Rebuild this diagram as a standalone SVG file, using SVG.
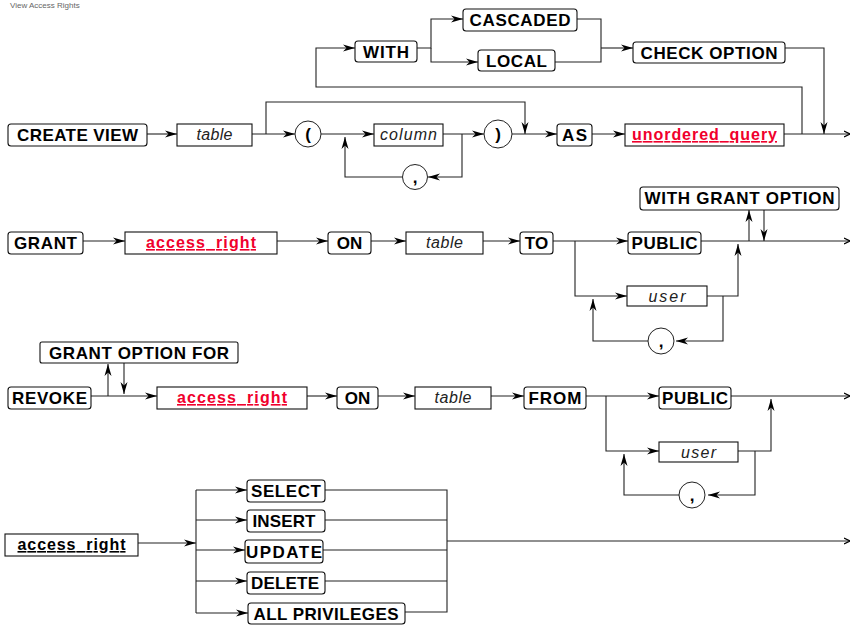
<svg xmlns="http://www.w3.org/2000/svg" width="851" height="625" viewBox="0 0 851 625">
<style>
.bg{fill:#fff}
.k{fill:#fff;stroke:#111;stroke-width:1.1}
.c{fill:#fff;stroke:#222;stroke-width:1}
.ln{fill:none;stroke:#222;stroke-width:1.1}
.t{font-family:"Liberation Sans",Arial,sans-serif;font-size:17px;font-weight:bold;fill:#000;text-anchor:middle}
.i{font-family:"Liberation Sans",Arial,sans-serif;font-size:16px;font-style:italic;fill:#222;text-anchor:middle}
.r{font-family:"Liberation Sans",Arial,sans-serif;font-size:16px;font-weight:bold;fill:#f0002c;text-anchor:middle;text-decoration:underline}
.u{font-family:"Liberation Sans",Arial,sans-serif;font-size:16px;font-weight:bold;fill:#000;text-anchor:middle;text-decoration:underline}
.h{font-family:"Liberation Sans",Arial,sans-serif;font-size:8px;fill:#666}
</style>
<defs>
<marker id="a" markerUnits="userSpaceOnUse" viewBox="0 0 12 8" refX="12" refY="4" markerWidth="12" markerHeight="8" orient="auto">
<path d="M0,0.5 L12,4 L0,7.5 L3.5,4 Z" fill="#000"/>
</marker>
<marker id="e" markerUnits="userSpaceOnUse" viewBox="0 0 6 8" refX="6" refY="4" markerWidth="6" markerHeight="8" orient="auto">
<path d="M0,1 L6,4 L0,7" fill="none" stroke="#000" stroke-width="1.2"/>
</marker>
</defs>
<rect class="bg" x="0" y="0" width="851" height="625"/>
<text class="h" x="10" y="8">View  Access Rights</text>

<g id="connectors">
<!-- row 1 -->
<path class="ln" d="M147,134 H177" marker-end="url(#a)"/>
<path class="ln" d="M252,134 H295" marker-end="url(#a)"/>
<path class="ln" d="M266,134 V102 H525 V134" marker-end="url(#a)"/>
<path class="ln" d="M321,134 H374" marker-end="url(#a)"/>
<path class="ln" d="M443,134 H484" marker-end="url(#a)"/>
<path class="ln" d="M462,134 V177 H428" marker-end="url(#a)"/>
<path class="ln" d="M402,177 H345 V137" marker-end="url(#a)"/>
<path class="ln" d="M512,134 H557" marker-end="url(#a)"/>
<path class="ln" d="M592,134 H625" marker-end="url(#a)"/>
<path class="ln" d="M784,134 H850" marker-end="url(#e)"/>
<path class="ln" d="M802,134 V87 H316 V48 H355" marker-end="url(#a)"/>
<path class="ln" d="M417,48 H431 V19 H463" marker-end="url(#a)"/>
<path class="ln" d="M431,48 V62 H478" marker-end="url(#a)"/>
<path class="ln" d="M577,19 H601 V62 H555"/>
<path class="ln" d="M601,48 H633" marker-end="url(#a)"/>
<path class="ln" d="M785,48 H824 V134" marker-end="url(#a)"/>
<!-- row 2 -->
<path class="ln" d="M83,241 H125" marker-end="url(#a)"/>
<path class="ln" d="M277,241 H328" marker-end="url(#a)"/>
<path class="ln" d="M371,241 H406" marker-end="url(#a)"/>
<path class="ln" d="M483,241 H520" marker-end="url(#a)"/>
<path class="ln" d="M553,241 H628" marker-end="url(#a)"/>
<path class="ln" d="M575,241 V296 H627" marker-end="url(#a)"/>
<path class="ln" d="M707,296 H738 V244" marker-end="url(#a)"/>
<path class="ln" d="M723,296 V341 H676" marker-end="url(#a)"/>
<path class="ln" d="M648,341 H593 V299" marker-end="url(#a)"/>
<path class="ln" d="M701,241 H850" marker-end="url(#e)"/>
<path class="ln" d="M749,241 V210" marker-end="url(#a)"/>
<path class="ln" d="M764,210 V241" marker-end="url(#a)"/>
<!-- row 3 -->
<path class="ln" d="M91,396 H157" marker-end="url(#a)"/>
<path class="ln" d="M108,396 V364" marker-end="url(#a)"/>
<path class="ln" d="M124,363 V394" marker-end="url(#a)"/>
<path class="ln" d="M307,396 H337" marker-end="url(#a)"/>
<path class="ln" d="M378,396 H415" marker-end="url(#a)"/>
<path class="ln" d="M491,396 H524" marker-end="url(#a)"/>
<path class="ln" d="M586,396 H659" marker-end="url(#a)"/>
<path class="ln" d="M606,396 V451 H659" marker-end="url(#a)"/>
<path class="ln" d="M738,451 H771 V399" marker-end="url(#a)"/>
<path class="ln" d="M755,451 V495 H708" marker-end="url(#a)"/>
<path class="ln" d="M679,495 H624 V454" marker-end="url(#a)"/>
<path class="ln" d="M731,396 H850" marker-end="url(#e)"/>
<!-- row 4 -->
<path class="ln" d="M138,543 H196" marker-end="url(#a)"/>
<path class="ln" d="M196,490 V613"/>
<path class="ln" d="M196,490 H247" marker-end="url(#a)"/>
<path class="ln" d="M196,520 H247" marker-end="url(#a)"/>
<path class="ln" d="M196,550 H245" marker-end="url(#a)"/>
<path class="ln" d="M196,581 H247" marker-end="url(#a)"/>
<path class="ln" d="M196,613 H248" marker-end="url(#a)"/>
<path class="ln" d="M325,490 H447 V612 H405"/>
<path class="ln" d="M325,520 H447"/>
<path class="ln" d="M323,550 H447"/>
<path class="ln" d="M325,581 H447"/>
<path class="ln" d="M447,541 H850" marker-end="url(#e)"/>
</g>

<!-- row 1 nodes -->
<g id="create_view"><rect class="k" x="8" y="124" width="139" height="22" rx="3"/><text class="t" x="77.5" y="141" textLength="121">CREATE VIEW</text></g>
<g id="table1"><rect class="k" x="177" y="124" width="75" height="22"/><text class="i" x="214.5" y="140" textLength="36">table</text></g>
<g id="lparen"><circle class="c" cx="308" cy="134" r="13"/><text class="t" x="308" y="140">(</text></g>
<g id="column"><rect class="k" x="374" y="124" width="69" height="22"/><text class="i" x="408.5" y="140" textLength="57">column</text></g>
<g id="comma1"><circle class="c" cx="415" cy="177" r="12.5"/><text class="t" x="415" y="183">,</text></g>
<g id="rparen"><circle class="c" cx="498" cy="134" r="14"/><text class="t" x="498" y="140">)</text></g>
<g id="as"><rect class="k" x="557" y="124" width="35" height="22" rx="3"/><text class="t" x="574.5" y="141" textLength="25">AS</text></g>
<g id="unordered_query"><rect class="k" x="625" y="124" width="159" height="22"/><text class="r" x="704.5" y="140" textLength="145">unordered_query</text></g>
<g id="with"><rect class="k" x="355" y="41" width="62" height="21" rx="3"/><text class="t" x="386" y="57.5" textLength="46">WITH</text></g>
<g id="cascaded"><rect class="k" x="463" y="9" width="114" height="22" rx="3"/><text class="t" x="520" y="26" textLength="101">CASCADED</text></g>
<g id="local"><rect class="k" x="478" y="50" width="77" height="21" rx="3"/><text class="t" x="516.5" y="66.5" textLength="61">LOCAL</text></g>
<g id="check_option"><rect class="k" x="633" y="42" width="152" height="21" rx="3"/><text class="t" x="709" y="58.5" textLength="137">CHECK OPTION</text></g>

<!-- row 2 nodes -->
<g id="grant"><rect class="k" x="8" y="232" width="75" height="22" rx="3"/><text class="t" x="45.5" y="249" textLength="63">GRANT</text></g>
<g id="access_right_g"><rect class="k" x="125" y="232" width="152" height="22"/><text class="r" x="201" y="248" textLength="110">access_right</text></g>
<g id="on_g"><rect class="k" x="328" y="232" width="43" height="22" rx="3"/><text class="t" x="349.5" y="249">ON</text></g>
<g id="table_g"><rect class="k" x="406" y="232" width="77" height="22"/><text class="i" x="444.5" y="248" textLength="37">table</text></g>
<g id="to"><rect class="k" x="520" y="232" width="33" height="22" rx="3"/><text class="t" x="536.5" y="249">TO</text></g>
<g id="public_g"><rect class="k" x="628" y="232" width="73" height="22" rx="3"/><text class="t" x="664.5" y="249" textLength="66">PUBLIC</text></g>
<g id="user_g"><rect class="k" x="627" y="286" width="80" height="20"/><text class="i" x="667" y="302" textLength="37">user</text></g>
<g id="comma_g"><circle class="c" cx="661" cy="341" r="13"/><text class="t" x="661" y="347">,</text></g>
<g id="with_grant_option"><rect class="k" x="640" y="187" width="199" height="23" rx="3"/><text class="t" x="739.5" y="204" textLength="190">WITH GRANT OPTION</text></g>

<!-- row 3 nodes -->
<g id="revoke"><rect class="k" x="8" y="387" width="83" height="22" rx="3"/><text class="t" x="49.5" y="404" textLength="75">REVOKE</text></g>
<g id="grant_option_for"><rect class="k" x="40" y="342" width="198" height="21" rx="2"/><text class="t" x="139" y="358.5" textLength="180">GRANT OPTION FOR</text></g>
<g id="access_right_r"><rect class="k" x="157" y="387" width="150" height="22"/><text class="r" x="232" y="403" textLength="110">access_right</text></g>
<g id="on_r"><rect class="k" x="337" y="387" width="41" height="22" rx="3"/><text class="t" x="357.5" y="404">ON</text></g>
<g id="table_r"><rect class="k" x="415" y="387" width="76" height="22"/><text class="i" x="453" y="403" textLength="37">table</text></g>
<g id="from"><rect class="k" x="524" y="387" width="62" height="22" rx="3"/><text class="t" x="555" y="404" textLength="53">FROM</text></g>
<g id="public_r"><rect class="k" x="659" y="387" width="72" height="22" rx="3"/><text class="t" x="695" y="404" textLength="66">PUBLIC</text></g>
<g id="user_r"><rect class="k" x="659" y="442" width="79" height="20"/><text class="i" x="698.5" y="458" textLength="35">user</text></g>
<g id="comma_r"><circle class="c" cx="692" cy="495" r="13"/><text class="t" x="692" y="501">,</text></g>

<!-- row 4 nodes -->
<g id="access_right_def"><rect class="k" x="5" y="534" width="133" height="22"/><text class="u" x="71.5" y="550" textLength="108">access_right</text></g>
<g id="select"><rect class="k" x="247" y="480" width="78" height="22" rx="3"/><text class="t" x="286" y="497" textLength="70">SELECT</text></g>
<g id="insert"><rect class="k" x="247" y="510" width="78" height="22" rx="3"/><text class="t" x="284" y="527" textLength="63">INSERT</text></g>
<g id="update"><rect class="k" x="245" y="540" width="78" height="23" rx="3"/><text class="t" x="284" y="557.5" textLength="76">UPDATE</text></g>
<g id="delete"><rect class="k" x="247" y="572" width="78" height="22" rx="3"/><text class="t" x="285" y="589" textLength="68">DELETE</text></g>
<g id="all_privileges"><rect class="k" x="248" y="603" width="157" height="21" rx="3"/><text class="t" x="326" y="619.5" textLength="145">ALL PRIVILEGES</text></g>
</svg>
